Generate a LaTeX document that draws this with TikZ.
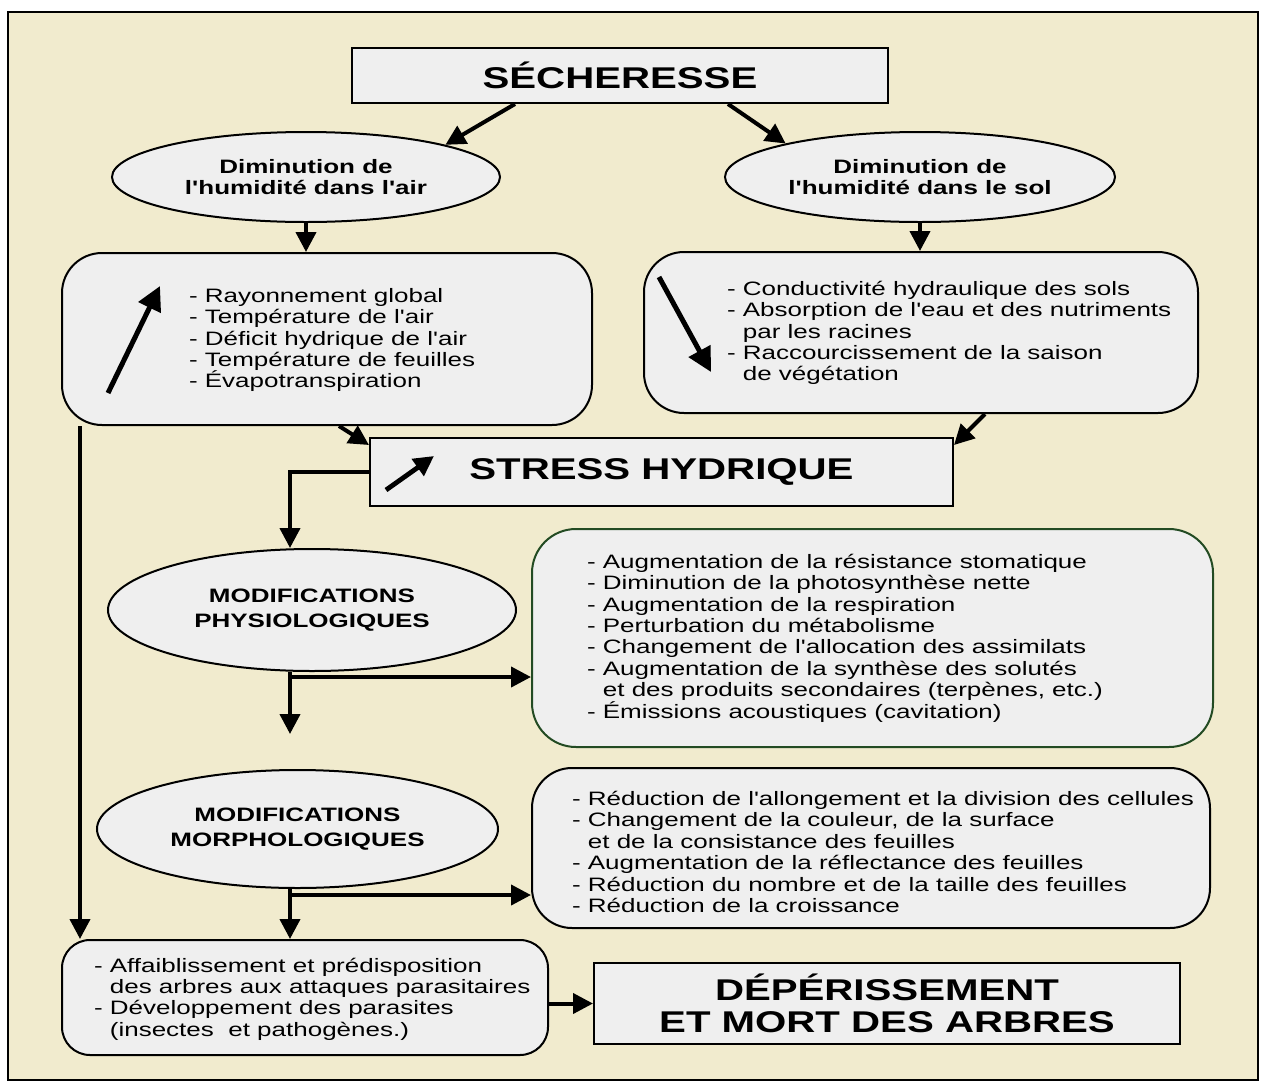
\documentclass[tikz,border=0pt]{standalone}
\usepackage{fontspec}
\newfontfamily\arial{Liberation Sans}[FakeStretch=1.34]
\usepackage{tikz}
\usetikzlibrary{arrows.meta,shapes.geometric}

\definecolor{cream}{RGB}{241,235,206}
\definecolor{boxgray}{RGB}{239,239,239}
\definecolor{darkgreen}{RGB}{35,75,35}

\begin{document}
\begin{tikzpicture}[x=0.5pt,y=-0.5pt,>={Triangle[length=10pt,width=10pt]},
                    line width=1pt]
  \tikzstyle{heading}=[draw,fill=boxgray,inner sep=0pt,align=center,
                       font=\arial\fontsize{15}{16}\selectfont\bfseries]
  \tikzstyle{oval}=[ellipse,draw,fill=boxgray,inner sep=0pt,align=center,
                    font=\arial\fontsize{9.7}{10.5}\selectfont\bfseries]
  \tikzstyle{panel}=[draw,fill=boxgray,rounded corners=20pt,inner sep=0pt]
  \tikzstyle{items}=[anchor=west,align=left,inner sep=0pt,
                     font=\arial\fontsize{9.7}{10.7}\selectfont]
  \tikzstyle{flow}=[->,line width=2pt]
  \tikzstyle{trend}=[-{Triangle[length=12pt,width=12pt]},line width=2.5pt]

  \useasboundingbox (0,0) rectangle (1266,1083);
  \fill[white] (0,0) rectangle (1266,1083);
  \draw[fill=cream] (8,12) rectangle (1258,1080);

  % top of the chart
  \node[heading,minimum width=268pt,minimum height=27.5pt] (S) at (620,75.5) {SÉCHERESSE};
  \node[oval,minimum width=194pt,minimum height=45pt] (Ea) at (306,177) {Diminution de\\l'humidité dans l'air};
  \node[oval,minimum width=195pt,minimum height=45pt] (Es) at (920,177) {Diminution de\\l'humidité dans le sol};

  \node[panel,minimum width=265pt,minimum height=86pt] (Ba) at (327,339) {};
  \node[panel,minimum width=277pt,minimum height=80.5pt] (Bs) at (921,332.5) {};
  \node[items] (Ta) at (188,340) {- Rayonnement global\\- Température de l'air\\- Déficit hydrique de l'air\\- Température de feuilles\\- Évapotranspiration};
  \node[items] (Ts) at (726,333) {- Conductivité hydraulique des sols\\- Absorption de l'eau et des nutriments\\\hphantom{- }par les racines\\- Raccourcissement de la saison\\\hphantom{- }de végétation};

  \node[heading,minimum width=291.5pt,minimum height=34pt] (H) at (661.5,472) {STRESS HYDRIQUE};

  % modifications
  \node[oval,minimum width=204pt,minimum height=61pt,font=\arial\fontsize{9.7}{12.5}\selectfont\bfseries] (P) at (312,610) {MODIFICATIONS\\PHYSIOLOGIQUES};
  \node[panel,draw=darkgreen,rounded corners=22pt,minimum width=340.5pt,minimum height=109pt] (Bp) at (872.5,638) {};
  \node[items] (Tp) at (586,638) {- Augmentation de la résistance stomatique\\- Diminution de la photosynthèse nette\\- Augmentation de la respiration\\- Perturbation du métabolisme\\- Changement de l'allocation des assimilats\\- Augmentation de la synthèse des solutés\\\hphantom{- }et des produits secondaires (terpènes, etc.)\\- Émissions acoustiques (cavitation)};

  \node[oval,minimum width=200.5pt,minimum height=59pt,font=\arial\fontsize{9.7}{12.5}\selectfont\bfseries] (M) at (297.5,829) {MODIFICATIONS\\MORPHOLOGIQUES};
  \node[panel,minimum width=339pt,minimum height=80pt] (Bm) at (871,848) {};
  \node[items] (Tm) at (571,852) {- Réduction de l'allongement et la division des cellules\\- Changement de la couleur, de la surface\\\hphantom{- }et de la consistance des feuilles\\- Augmentation de la réflectance des feuilles\\- Réduction du nombre et de la taille des feuilles\\- Réduction de la croissance};

  % bottom
  \node[panel,rounded corners=14pt,minimum width=243pt,minimum height=57.5pt] (Bd) at (305,997.5) {};
  \node[items] (Td) at (93,999) {- Affaiblissement et prédisposition\\\hphantom{- }des arbres aux attaques parasitaires\\- Développement des parasites\\\hphantom{- }(insectes~ et pathogènes.)};
  \node[heading,minimum width=293pt,minimum height=40.5pt] (D) at (887,1003.5) {DÉPÉRISSEMENT\\ET MORT DES ARBRES};

  \coordinate (up1) at (108,393);
  \coordinate (up2) at (160,286);
  \coordinate (dn1) at (659,277);
  \coordinate (dn2) at (711,372);
  \coordinate (st1) at (386,490);
  \coordinate (st2) at (434,456);
  \coordinate (lv) at (80,0);
  \coordinate (pb) at (290,677);
  \coordinate (pe) at (290,734);
  \coordinate (mb) at (290,895);

  \draw[flow] ([xshift=-52.5pt]S.south) -- (Ea.13);
  \draw[flow] ([xshift=54pt]S.south) -- (Es.166);
  \draw[flow] (Ea.south) -- (Ea.south |- Ba.north);
  \draw[flow] (Es.south) -- (Es.south |- Bs.north);
  \draw[trend] (up1) -- (up2);
  \draw[trend] (dn1) -- (dn2);
  \draw[flow] ([xshift=6pt]Ba.south) -- ([yshift=-4pt]H.north west);
  \draw[flow] ([xshift=32pt]Bs.south) -- ([yshift=-4pt]H.north east);
  \draw[flow,line width=2.4pt] (st1) -- (st2);
  \draw[flow] (H.west) -| (pb |- P.north);
  \draw[flow] (P.south -| pb) -- (pe);
  \draw[flow] (pb) -- (pb -| Bp.west);
  \draw[flow] (Ba.south -| lv) -- (lv |- Bd.north);
  \draw[flow] (M.south -| mb) -- (mb |- Bd.north);
  \draw[flow] (mb) -- (mb -| Bm.west);
  \draw[flow] (Bd.east |- D.west) -- (D.west);
\end{tikzpicture}
\end{document}
